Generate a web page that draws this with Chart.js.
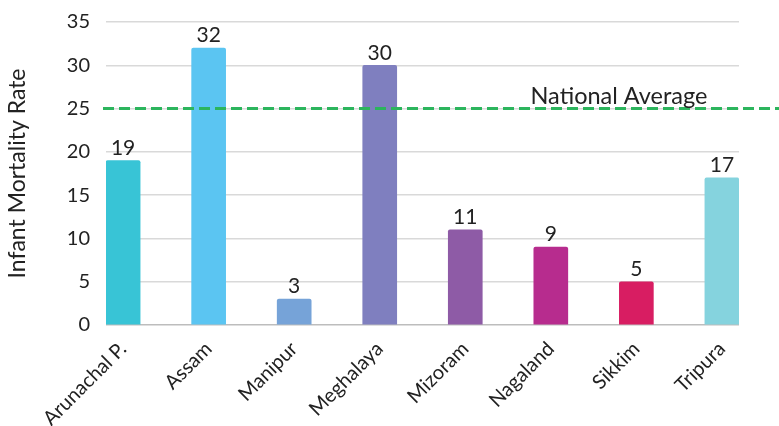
<!DOCTYPE html>
<html>
<head>
<meta charset="utf-8">
<script src="https://cdn.jsdelivr.net/npm/chart.js@4"></script>
<style>
  html, body { margin: 0; padding: 0; background: #fff; }
  #wrap { width: 779px; height: 426px; }
</style>
</head>
<body>
<div id="wrap"><canvas id="myChart" width="779" height="426"></canvas></div>
<script>
// chart data
const states = ['Arunachal P.', 'Assam', 'Manipur', 'Meghalaya', 'Mizoram', 'Nagaland', 'Sikkim', 'Tripura'];
const mortality = [19, 32, 3, 30, 11, 9, 5, 17];
const barColors = ['#38c4d6', '#5bc5f2', '#76a3d8', '#7f7fbf', '#8e5ba6', '#b72c8e', '#d81d62', '#85d3de'];
const yTicks = [0, 5, 10, 15, 20, 25, 30, 35];
const nationalAverage = 25;
const averageLabel = 'National Average';

const FONT = 'Lato, "Open Sans", sans-serif';

// value labels above bars + national average line
const overlay = {
    id: 'overlay',
    afterDatasetsDraw(chart) {
        const ctx = chart.ctx;
        const meta = chart.getDatasetMeta(0);
        ctx.save();
        ctx.fillStyle = '#222';
        ctx.font = '21px ' + FONT;
        ctx.textAlign = 'center';
        ctx.textBaseline = 'bottom';
        meta.data.forEach((bar, i) => {
            ctx.fillText(String(mortality[i]), bar.x, bar.y - 2);
        });

        const y = chart.scales.y.getPixelForValue(nationalAverage);
        ctx.strokeStyle = '#2cb55d';
        ctx.lineWidth = 3;
        ctx.setLineDash([11, 5]);
        ctx.beginPath();
        ctx.moveTo(chart.chartArea.left - 3, y);
        ctx.lineTo(chart.width, y);
        ctx.stroke();
        ctx.setLineDash([]);

        ctx.fillStyle = '#222';
        ctx.font = '23.5px ' + FONT;
        ctx.textAlign = 'center';
        ctx.textBaseline = 'alphabetic';
        ctx.fillText(averageLabel, 619, y - 5);
        ctx.restore();
    }
};

new Chart(document.getElementById('myChart'), {
    type: 'bar',
    data: {
        datasets: [{
            data: mortality.map((v, i) => ({ x: i, y: v })),
            backgroundColor: barColors,
            borderWidth: 0,
            borderRadius: { topLeft: 2, topRight: 2 },
            borderSkipped: 'bottom',
            barThickness: 34
        }]
    },
    options: {
        responsive: false,
        animation: false,
        layout: { padding: { top: 22, right: 40, left: 0, bottom: 0 } },
        plugins: { legend: { display: false }, tooltip: { enabled: false } },
        scales: {
            x: {
                type: 'linear',
                offset: false,
                min: -0.2,
                max: 7.2,
                afterBuildTicks: (axis) => { axis.ticks = states.map((_, i) => ({ value: i })); },
                afterFit: (axis) => { axis.height = 101; },
                grid: { display: false },
                border: { display: false },
                ticks: {
                    autoSkip: false,
                    minRotation: 45,
                    maxRotation: 45,
                    padding: 4,
                    color: '#222',
                    font: { family: FONT, size: 20 },
                    callback: (v) => states[v]
                }
            },
            y: {
                min: 0,
                max: 35,
                afterBuildTicks: (axis) => { axis.ticks = yTicks.map(v => ({ value: v })); },
                afterFit: (axis) => {
                    axis.width = 106;
                    axis.paddingTop = 0;
                    axis.paddingBottom = 0;
                },
                grid: {
                    color: (c) => (c.tick && c.tick.value === 0 ? '#bdbdbd' : '#d9d9d9'),
                    lineWidth: 1.5,
                    drawTicks: false
                },
                border: { display: false },
                ticks: {
                    padding: 16,
                    color: '#222',
                    font: { family: FONT, size: 20 }
                },
                title: {
                    display: true,
                    text: 'Infant Mortality Rate',
                    color: '#222',
                    padding: { top: 4, bottom: 0 },
                    font: { family: FONT, size: 23 }
                }
            }
        }
    },
    plugins: [overlay]
});
</script>
</body>
</html>
